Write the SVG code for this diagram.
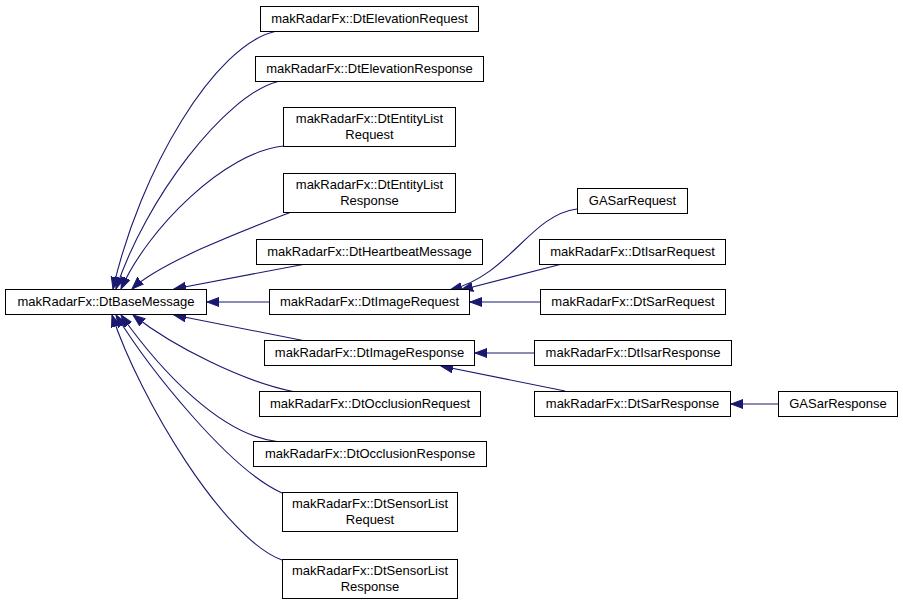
<svg xmlns="http://www.w3.org/2000/svg" width="903" height="605" viewBox="0 0 903 605">
<defs>
<style>
.node rect{fill:#ffffff;stroke:#000000;stroke-width:1}
.node text{font-family:"Liberation Sans",Arial,sans-serif;font-size:13px;fill:#000000;text-anchor:middle}
.edges path{fill:none;stroke:#191970;stroke-width:1.1;marker-end:url(#ah)}
</style>
<marker id="ah" markerUnits="userSpaceOnUse" markerWidth="14" markerHeight="11" refX="12" refY="5" orient="auto">
<path d="M0,0.5 L12,5 L0,9.5 z" fill="#191970" stroke="#191970" stroke-width="1"/>
</marker>
</defs>
<rect x="0" y="0" width="903" height="605" fill="#ffffff"/>
<g class="edges" id="edges">
<path d="M275,31.5 C215,45 140,170 113,289"/>
<path d="M278,81.5 C225,95 145,200 116,289"/>
<path d="M283.5,146 C225,152 148,228 121,289"/>
<path d="M290,212.5 C250,228 160,262 132,289"/>
<path d="M303,264.5 L174,289"/>
<path d="M269,302 L207,302"/>
<path d="M303,340.5 L174,315"/>
<path d="M293,391.5 C245,382 175,348 133,315"/>
<path d="M277,441.5 C220,435 160,370 121,315"/>
<path d="M282,493 C230,470 150,370 116,315"/>
<path d="M282,560 C225,540 140,400 112,315"/>
<path d="M577,209 C530,215 510,275 450,290"/>
<path d="M560,264.5 L461,290"/>
<path d="M540,302 L470,302"/>
<path d="M534,353 L475,353"/>
<path d="M565,391 L441,366"/>
<path d="M778,404 L731,404"/>
</g>
<g class="node" id="DtBaseMessage"><rect x="5.5" y="289.5" width="201" height="25"/><text x="106" y="305.5">makRadarFx::DtBaseMessage</text></g>
<g class="node" id="DtElevationRequest"><rect x="260.5" y="6.5" width="218" height="25"/><text x="369.5" y="22.5">makRadarFx::DtElevationRequest</text></g>
<g class="node" id="DtElevationResponse"><rect x="255.5" y="56.5" width="228" height="25"/><text x="369.5" y="72.5">makRadarFx::DtElevationResponse</text></g>
<g class="node" id="DtEntityListRequest"><rect x="283.5" y="107.5" width="172" height="39"/><text x="369.5" y="122.5">makRadarFx::DtEntityList</text><text x="369.5" y="138.5">Request</text></g>
<g class="node" id="DtEntityListResponse"><rect x="283.5" y="173.5" width="172" height="39"/><text x="369.5" y="188.5">makRadarFx::DtEntityList</text><text x="369.5" y="204.5">Response</text></g>
<g class="node" id="DtHeartbeatMessage"><rect x="256.5" y="239.5" width="226" height="25"/><text x="369.5" y="255.5">makRadarFx::DtHeartbeatMessage</text></g>
<g class="node" id="DtImageRequest"><rect x="269.5" y="289.5" width="200" height="25"/><text x="369.5" y="305.5">makRadarFx::DtImageRequest</text></g>
<g class="node" id="DtImageResponse"><rect x="264.5" y="340.5" width="210" height="25"/><text x="369.5" y="356.5">makRadarFx::DtImageResponse</text></g>
<g class="node" id="DtOcclusionRequest"><rect x="259.5" y="391.5" width="221" height="25"/><text x="370" y="407.5">makRadarFx::DtOcclusionRequest</text></g>
<g class="node" id="DtOcclusionResponse"><rect x="253.5" y="441.5" width="233" height="25"/><text x="370" y="457.5">makRadarFx::DtOcclusionResponse</text></g>
<g class="node" id="DtSensorListRequest"><rect x="282.5" y="492.5" width="175" height="39"/><text x="370" y="507.5">makRadarFx::DtSensorList</text><text x="370" y="523.5">Request</text></g>
<g class="node" id="DtSensorListResponse"><rect x="282.5" y="559.5" width="175" height="39"/><text x="370" y="574.5">makRadarFx::DtSensorList</text><text x="370" y="590.5">Response</text></g>
<g class="node" id="GASarRequest"><rect x="577.5" y="188.5" width="110" height="25"/><text x="632.5" y="204.5">GASarRequest</text></g>
<g class="node" id="DtIsarRequest"><rect x="539.5" y="239.5" width="186" height="25"/><text x="632.5" y="255.5">makRadarFx::DtIsarRequest</text></g>
<g class="node" id="DtSarRequest"><rect x="540.5" y="289.5" width="185" height="25"/><text x="633" y="305.5">makRadarFx::DtSarRequest</text></g>
<g class="node" id="DtIsarResponse"><rect x="534.5" y="340.5" width="197" height="25"/><text x="633" y="356.5">makRadarFx::DtIsarResponse</text></g>
<g class="node" id="DtSarResponse"><rect x="534.5" y="391.5" width="196" height="25"/><text x="632.5" y="407.5">makRadarFx::DtSarResponse</text></g>
<g class="node" id="GASarResponse"><rect x="778.5" y="391.5" width="119" height="25"/><text x="838" y="407.5">GASarResponse</text></g>
</svg>
